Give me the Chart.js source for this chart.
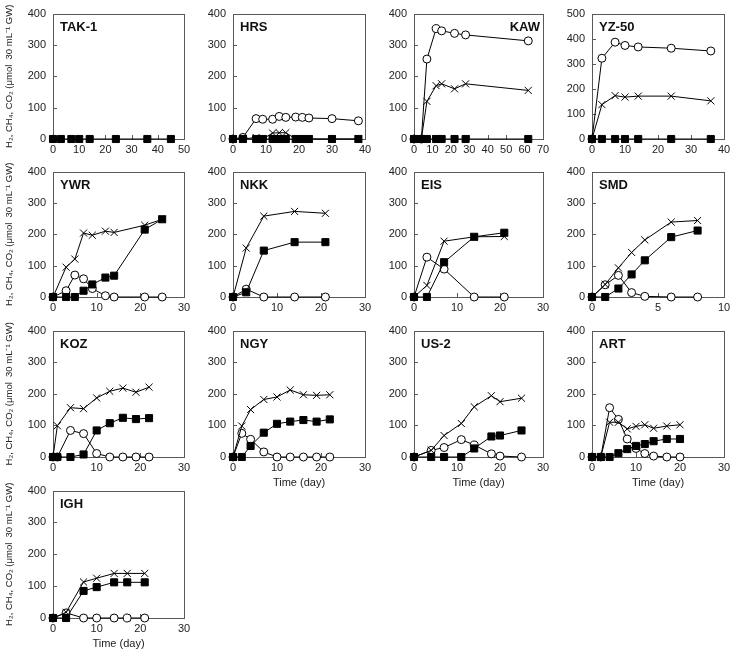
<!DOCTYPE html>
<html>
<head>
<meta charset="utf-8">
<script src="https://cdn.jsdelivr.net/npm/chart.js@4.4.1/dist/chart.umd.min.js"></script>
<style>
  body { margin: 0; background: #fff; }
  #page { position: relative; width: 734px; height: 653px; overflow: hidden; }
  .box { position: absolute; }
</style>
</head>
<body>
<div id="page"></div>
<script>
// ---- data ----
// h2 = open circles, co2 = crosses, ch4 = filled squares
const takDays = [0, 3, 7, 10, 14, 24, 36, 45];
const takCH4  = [0, 0, 0, 0, 0, 0, 0, 0];

const hrsDays = [0, 3, 7, 9, 12, 14, 16, 19, 21, 23, 30, 38];
const hrsH2   = [0, 5, 65, 63, 63, 72, 69, 70, 69, 67, 65, 58];
const hrsCO2  = [0, 0, 5, 0, 19, 20, 20, 0, 0, 0, 0, 0];
const hrsCH4  = [0, 0, 0, 0, 0, 0, 0, 0, 0, 0, 0, 0];

const kawDays = [0, 4, 7, 12, 15, 22, 28, 62];
const kawH2   = [0, 0, 255, 352, 345, 337, 332, 313];
const kawCO2  = [0, 0, 120, 170, 176, 160, 176, 155];
const kawCH4  = [0, 0, 0, 0, 0, 0, 0, 0];

const yzDays = [0, 3, 7, 10, 14, 24, 36];
const yzH2   = [0, 322, 386, 373, 367, 362, 351];
const yzCO2  = [0, 137, 173, 167, 171, 171, 152];
const yzCH4  = [0, 0, 0, 0, 0, 0, 0];

const ywrDays = [0, 3, 5, 7, 9, 12, 14, 21, 25];
const ywrH2   = [0, 20, 70, 58, 27, 4, 0, 0, 0];
const ywrCO2  = [0, 95, 121, 204, 197, 210, 206, 229, 248];
const ywrCH4  = [0, 0, 0, 20, 40, 62, 68, 215, 248];

const nkkDays = [0, 3, 7, 14, 21];
const nkkH2   = [0, 25, 0, 0, 0];
const nkkCO2  = [0, 156, 258, 273, 267];
const nkkCH4  = [0, 15, 148, 175, 175];

const eisDays = [0, 3, 7, 14, 21];
const eisH2   = [0, 127, 89, 0, 0];
const eisCO2  = [0, 37, 178, 192, 193];
const eisCH4  = [0, 0, 111, 192, 205];

const smdDays = [0, 1, 2, 3, 4, 6, 8];
const smdH2   = [0, 39, 69, 14, 2, 0, 0];
const smdCO2  = [0, 40, 93, 142, 182, 239, 244];
const smdCH4  = [0, 0, 27, 72, 117, 191, 212];

const kozDays = [0, 1, 4, 7, 10, 13, 16, 19, 22];
const kozH2   = [0, 0, 84, 74, 11, 0, 0, 0, 0];
const kozCO2  = [0, 99, 156, 153, 187, 208, 218, 205, 221];
const kozCH4  = [0, 0, 0, 8, 84, 107, 124, 120, 123];

const ngyDays = [0, 2, 4, 7, 10, 13, 16, 19, 22];
const ngyH2   = [0, 75, 56, 16, 0, 0, 0, 0, 0];
const ngyCO2  = [0, 98, 150, 182, 190, 212, 197, 195, 197];
const ngyCH4  = [0, 0, 35, 77, 105, 112, 117, 112, 119];

const usDays = [0, 4, 7, 11, 14, 18, 20, 25];
const usH2   = [0, 21, 30, 55, 38, 10, 3, 0];
const usCO2  = [0, 21, 68, 106, 159, 194, 175, 186];
const usCH4  = [0, 0, 0, 0, 27, 65, 68, 84];

const artDays = [0, 2, 4, 6, 8, 10, 12, 14, 17, 20];
const artH2   = [0, 0, 156, 119, 57, 27, 11, 3, 0, 0];
const artCO2  = [0, 0, 110, 110, 89, 97, 102, 91, 98, 102];
const artCH4  = [0, 0, 0, 12, 25, 35, 41, 50, 57, 57];

const ighDays = [0, 3, 7, 10, 14, 17, 21];
const ighH2   = [0, 16, 0, 0, 0, 0, 0];
const ighCO2  = [0, 18, 113, 125, 140, 140, 140];
const ighCH4  = [0, 0, 85, 97, 112, 112, 112];

const yTitle = 'H\u2082, CH\u2084, CO\u2082 (\u03bcmol  30 mL\u207b\u00b9 GW)';
const xTitle = 'Time (day)';

// panel list: name, grid position, axis ranges
const panels = [
  { name: 'TAK-1', col: 0, row: 0, days: takDays, h2: null,  co2: null,   ch4: takCH4, xMax: 50, xStep: 10, yMax: 400 },
  { name: 'HRS',   col: 1, row: 0, days: hrsDays, h2: hrsH2, co2: hrsCO2, ch4: hrsCH4, xMax: 40, xStep: 10, yMax: 400 },
  { name: 'KAW',   col: 2, row: 0, days: kawDays, h2: kawH2, co2: kawCO2, ch4: kawCH4, xMax: 70, xStep: 10, yMax: 400, right: true },
  { name: 'YZ-50', col: 3, row: 0, days: yzDays,  h2: yzH2,  co2: yzCO2,  ch4: yzCH4,  xMax: 40, xStep: 10, yMax: 500 },
  { name: 'YWR',   col: 0, row: 1, days: ywrDays, h2: ywrH2, co2: ywrCO2, ch4: ywrCH4, xMax: 30, xStep: 10, yMax: 400 },
  { name: 'NKK',   col: 1, row: 1, days: nkkDays, h2: nkkH2, co2: nkkCO2, ch4: nkkCH4, xMax: 30, xStep: 10, yMax: 400 },
  { name: 'EIS',   col: 2, row: 1, days: eisDays, h2: eisH2, co2: eisCO2, ch4: eisCH4, xMax: 30, xStep: 10, yMax: 400 },
  { name: 'SMD',   col: 3, row: 1, days: smdDays, h2: smdH2, co2: smdCO2, ch4: smdCH4, xMax: 10, xStep: 5,  yMax: 400 },
  { name: 'KOZ',   col: 0, row: 2, days: kozDays, h2: kozH2, co2: kozCO2, ch4: kozCH4, xMax: 30, xStep: 10, yMax: 400 },
  { name: 'NGY',   col: 1, row: 2, days: ngyDays, h2: ngyH2, co2: ngyCO2, ch4: ngyCH4, xMax: 30, xStep: 10, yMax: 400, xt: true },
  { name: 'US-2',  col: 2, row: 2, days: usDays,  h2: usH2,  co2: usCO2,  ch4: usCH4,  xMax: 30, xStep: 10, yMax: 400, xt: true },
  { name: 'ART',   col: 3, row: 2, days: artDays, h2: artH2, co2: artCO2, ch4: artCH4, xMax: 30, xStep: 10, yMax: 400, xt: true },
  { name: 'IGH',   col: 0, row: 3, days: ighDays, h2: ighH2, co2: ighCO2, ch4: ighCH4, xMax: 30, xStep: 10, yMax: 400, xt: true }
];

// ---- layout of the plot boxes ----
const colLeft  = [53, 233, 414, 592];
const colWidth = [131, 132, 129, 132];
const rowTop    = [13, 171, 330, 490];
const rowHeight = [126, 126, 127, 128];
const padTop = 13, padRight = 14, xAxisH = 37;

const fontFam = '"Liberation Sans", Arial, sans-serif';
const textCol = '#222';

function pts(days, vals) {
  return days.map((d, i) => ({ x: d, y: vals[i] }));
}

const framePlugin = {
  id: 'frame',
  beforeDatasetsDraw(chart) {
    const { ctx, chartArea: a, scales } = chart;
    ctx.save();
    ctx.strokeStyle = '#595959';
    ctx.lineWidth = 1;
    ctx.strokeRect(Math.round(a.left) + 0.5, Math.round(a.top) + 0.5,
      Math.round(a.right - a.left), Math.round(a.bottom - a.top));
    ctx.beginPath();
    scales.y.ticks.forEach(t => {
      const y = Math.round(scales.y.getPixelForValue(t.value)) + 0.5;
      ctx.moveTo(a.left, y); ctx.lineTo(a.left + 4, y);
    });
    scales.x.ticks.forEach(t => {
      const x = Math.round(scales.x.getPixelForValue(t.value)) + 0.5;
      ctx.moveTo(x, a.bottom); ctx.lineTo(x, a.bottom - 4);
    });
    ctx.stroke();
    ctx.restore();
  },
  afterDatasetsDraw(chart) {
    const { ctx, chartArea: a } = chart;
    const p = chart.options.plugins.frame;
    ctx.save();
    ctx.font = 'bold 13px ' + fontFam;
    ctx.fillStyle = '#111';
    ctx.textBaseline = 'alphabetic';
    if (p.right) {
      ctx.textAlign = 'right';
      ctx.fillText(p.name, a.right - 3, a.top + 17);
    } else {
      ctx.textAlign = 'left';
      ctx.fillText(p.name, a.left + 7, a.top + 17);
    }
    ctx.restore();
  }
};

const page = document.getElementById('page');

panels.forEach(p => {
  const yW = p.col === 0 ? 53 : 35;
  const left = colLeft[p.col] - yW;
  const top = rowTop[p.row] - padTop;
  const w = colWidth[p.col] + yW + padRight;
  const h = rowHeight[p.row] + padTop + xAxisH;

  const box = document.createElement('div');
  box.className = 'box';
  box.style.left = left + 'px';
  box.style.top = top + 'px';
  const cv = document.createElement('canvas');
  cv.width = w; cv.height = h;
  cv.style.width = w + 'px'; cv.style.height = h + 'px';
  box.appendChild(cv);
  page.appendChild(box);

  const datasets = [];
  if (p.ch4) datasets.push({
    data: pts(p.days, p.ch4), pointStyle: 'rect', pointRadius: 5,
    pointBackgroundColor: '#000', pointBorderColor: '#000', pointBorderWidth: 1,
    borderColor: '#000', borderWidth: 1, clip: false
  });
  if (p.co2) datasets.push({
    data: pts(p.days, p.co2), pointStyle: 'crossRot', pointRadius: 5,
    pointBorderColor: '#000', pointBorderWidth: 1,
    borderColor: '#000', borderWidth: 1, clip: false
  });
  if (p.h2) datasets.push({
    data: pts(p.days, p.h2), pointStyle: 'circle', pointRadius: 4,
    pointBackgroundColor: '#fff', pointBorderColor: '#000', pointBorderWidth: 1,
    borderColor: '#000', borderWidth: 1, clip: false
  });

  new Chart(cv, {
    type: 'line',
    data: { datasets },
    options: {
      responsive: false,
      animation: false,
      events: [],
      layout: { padding: { top: padTop, right: padRight, left: 0, bottom: 0 } },
      elements: { line: { tension: 0, fill: false } },
      plugins: {
        legend: { display: false },
        tooltip: { enabled: false },
        frame: { name: p.name, right: !!p.right }
      },
      scales: {
        x: {
          type: 'linear', min: 0, max: p.xMax,
          grid: { display: false, drawTicks: false },
          border: { display: false },
          ticks: { stepSize: p.xStep, autoSkip: false, maxRotation: 0, padding: 4,
                   color: textCol, font: { family: fontFam, size: 11 } },
          title: { display: !!p.xt, text: xTitle, color: textCol,
                   font: { family: fontFam, size: 11 }, padding: { top: 0, bottom: 4 } },
          afterFit: s => { s.height = xAxisH; }
        },
        y: {
          type: 'linear', min: 0, max: p.yMax,
          grid: { display: false, drawTicks: false },
          border: { display: false },
          ticks: { stepSize: 100, padding: 7, color: textCol,
                   font: { family: fontFam, size: 11 } },
          title: { display: p.col === 0, text: yTitle, color: textCol,
                   font: { family: fontFam, size: 9.5 }, padding: { top: 4, bottom: 0 } },
          afterFit: s => { s.width = yW; }
        }
      }
    },
    plugins: [framePlugin]
  });
});
</script>
</body>
</html>
